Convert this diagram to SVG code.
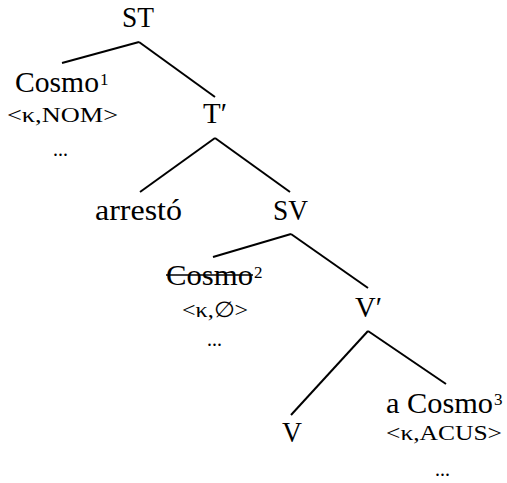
<svg xmlns="http://www.w3.org/2000/svg" width="507" height="483" viewBox="0 0 507 483">
<style>
text{font-family:"Liberation Serif","DejaVu Serif",serif;fill:#000}
.b{font-size:28.5px}
.s{font-size:22px}
.sup{font-size:17px}
.e{font-size:22px}
line{stroke:#000;stroke-width:2;stroke-linecap:butt}
</style>
<rect width="507" height="483" fill="#fff"/>
<g id="connectors">
<line x1="139" y1="42" x2="62" y2="63"/>
<line x1="139" y1="42" x2="215" y2="97"/>
<line x1="215" y1="138" x2="140" y2="192"/>
<line x1="215" y1="138" x2="290" y2="192"/>
<line x1="291" y1="234" x2="213" y2="257"/>
<line x1="291" y1="234" x2="368" y2="288"/>
<line x1="368" y1="331" x2="291" y2="415"/>
<line x1="368" y1="331" x2="446" y2="384"/>
</g>
<g id="ST"><text class="b" x="122" y="27" textLength="32" lengthAdjust="spacingAndGlyphs">ST</text></g>
<g id="Cosmo1">
<text class="b" x="15" y="92" textLength="84" lengthAdjust="spacingAndGlyphs">Cosmo</text>
<text class="sup" x="100" y="85">1</text>
<text class="s" x="7" y="122" textLength="111" lengthAdjust="spacingAndGlyphs">&lt;κ,NOM&gt;</text>
<text class="e" x="53" y="156" textLength="15" lengthAdjust="spacingAndGlyphs">...</text>
</g>
<g id="T1"><text class="b" x="203" y="123" textLength="24" lengthAdjust="spacingAndGlyphs">T′</text></g>
<g id="arresto"><text class="b" x="95" y="220" textLength="87" lengthAdjust="spacingAndGlyphs">arrestó</text></g>
<g id="SV"><text class="b" x="273" y="220" textLength="35" lengthAdjust="spacingAndGlyphs">SV</text></g>
<g id="Cosmo2">
<text class="b" x="166" y="285" textLength="87" lengthAdjust="spacingAndGlyphs">Cosmo</text>
<line x1="166" y1="275" x2="253" y2="275" style="stroke-width:1.5"/>
<text class="sup" x="254" y="278">2</text>
<text class="s" x="182" y="317" textLength="66" lengthAdjust="spacingAndGlyphs">&lt;κ,∅&gt;</text>
<text class="e" x="207" y="346" textLength="15" lengthAdjust="spacingAndGlyphs">...</text>
</g>
<g id="V1"><text class="b" x="355" y="317" textLength="27" lengthAdjust="spacingAndGlyphs">V′</text></g>
<g id="V"><text class="b" x="282" y="442" textLength="20" lengthAdjust="spacingAndGlyphs">V</text></g>
<g id="Cosmo3">
<text class="b" x="386" y="413" textLength="107" lengthAdjust="spacingAndGlyphs">a Cosmo</text>
<text class="sup" x="494" y="405">3</text>
<text class="s" x="386" y="440" textLength="116" lengthAdjust="spacingAndGlyphs">&lt;κ,ACUS&gt;</text>
<text class="e" x="435" y="476" textLength="15" lengthAdjust="spacingAndGlyphs">...</text>
</g>
</svg>
